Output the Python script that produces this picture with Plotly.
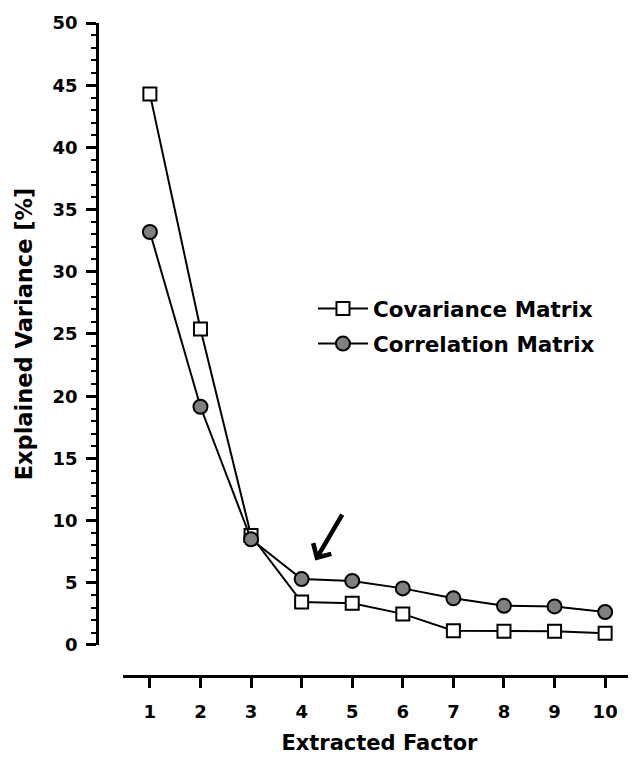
import plotly.graph_objects as go

factors = [1, 2, 3, 4, 5, 6, 7, 8, 9, 10]
covariance = [44.3, 25.4, 8.8, 3.45, 3.35, 2.5, 1.15, 1.1, 1.1, 0.95]
correlation = [33.2, 19.15, 8.5, 5.3, 5.15, 4.55, 3.75, 3.15, 3.1, 2.65]
x_ticks = factors
y_ticks = [0, 5, 10, 15, 20, 25, 30, 35, 40, 45, 50]

FONT = "DejaVu Sans, Liberation Sans, Arial, sans-serif"

fig = go.Figure()
fig.add_trace(go.Scatter(
    x=factors, y=covariance, mode="lines+markers", name="<b>Covariance Matrix</b>",
    legendgroup="cov",
    line=dict(color="black", width=2),
    marker=dict(symbol="square", size=13, color="white", line=dict(color="black", width=2)),
))
fig.add_trace(go.Scatter(
    x=factors, y=correlation, mode="lines+markers", name="<b>Correlation Matrix</b>",
    legendgroup="cor",
    line=dict(color="black", width=2),
    marker=dict(symbol="circle", size=14, color="#808080", line=dict(color="black", width=2)),
))

fig.add_annotation(
    x=4.27, y=6.8, ax=4.82, ay=10.6, xref="x", yref="y", axref="x", ayref="y",
    text="", showarrow=True, arrowhead=4, arrowsize=0.9, arrowwidth=4.5, arrowcolor="black",
)

fig.update_layout(
    width=628, height=754,
    margin=dict(l=89, r=0, t=15, b=86),
    plot_bgcolor="white", paper_bgcolor="white",
    font=dict(family=FONT, size=18, color="black"),
    showlegend=True,
    legend=dict(x=0.4007, y=0.594, xanchor="left", yanchor="top",
                font=dict(family=FONT, size=21.5, color="black"),
                traceorder="grouped", tracegroupgap=4,
                bgcolor="rgba(0,0,0,0)", itemwidth=50),
    xaxis=dict(
        domain=[0.048, 1], anchor="free", position=0, automargin=False,
        range=[0.466, 10.61], tickmode="array", tickvals=x_ticks,
        ticktext=[f"<b>{v}</b>" for v in x_ticks],
        showline=True, linecolor="black", linewidth=2.5,
        ticks="outside", ticklen=10, tickwidth=2.5, tickcolor="black",
        ticklabelstandoff=9,
        showgrid=False, zeroline=False,
        title=dict(text="<b>Extracted Factor</b>", font=dict(family=FONT, size=21), standoff=13),
        tickfont=dict(family=FONT, size=18),
    ),
    yaxis=dict(
        domain=[0.0475, 1], anchor="free", position=0, automargin=False,
        range=[0, 50], tickmode="array", tickvals=y_ticks,
        ticktext=[f"<b>{v}</b>" for v in y_ticks],
        showline=True, linecolor="black", linewidth=2.5,
        ticks="outside", ticklen=10, tickwidth=2.5, tickcolor="black",
        ticklabelstandoff=5,
        minor=dict(ticks="outside", ticklen=5, tickwidth=2, tickcolor="black", dtick=1, showgrid=False),
        showgrid=False, zeroline=False,
        title=dict(text="<b>Explained Variance [%]</b>", font=dict(family=FONT, size=22.5), standoff=12),
        tickfont=dict(family=FONT, size=18),
    ),
)

fig.write_html("out.html")
